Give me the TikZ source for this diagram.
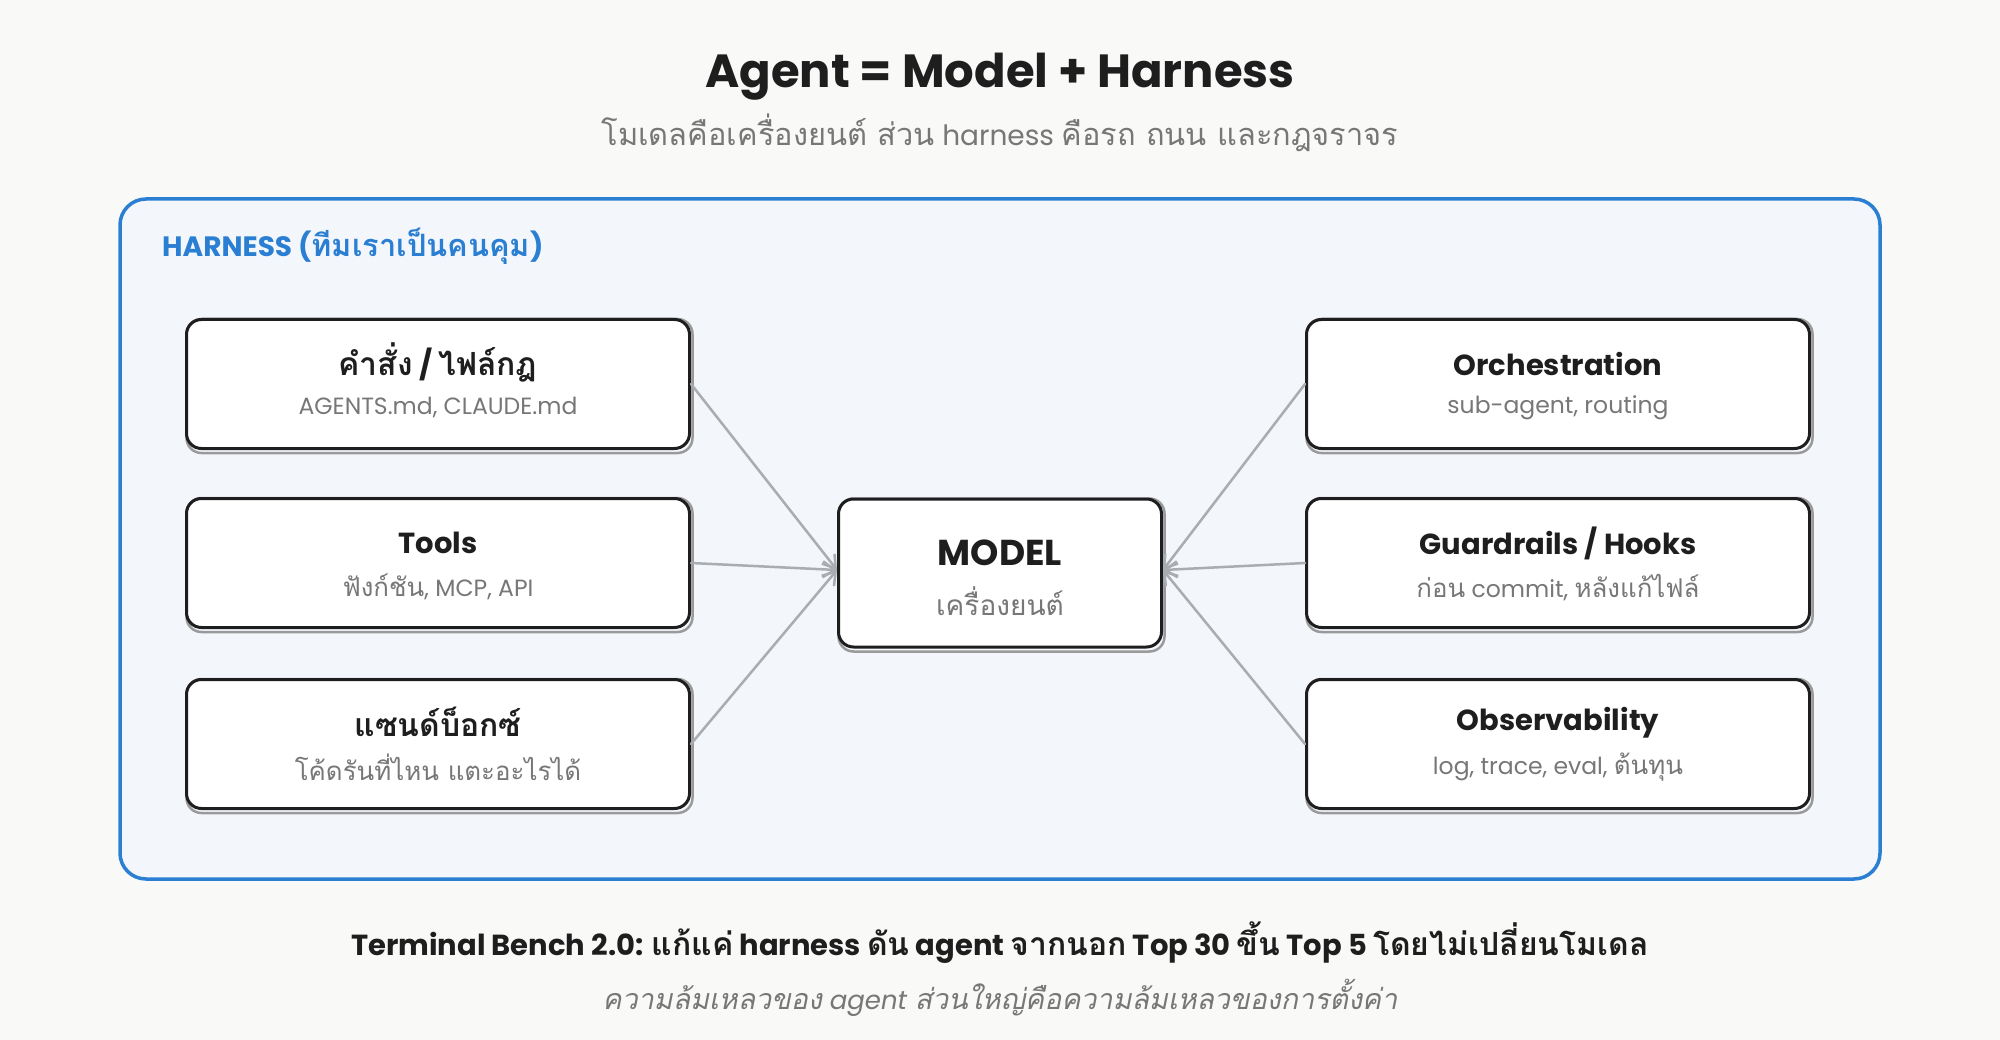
\documentclass[tikz,border=0pt]{standalone}
\usepackage{fontspec}
\setmainfont{Poppins}
\newfontfamily\thaifont[Script=Thai,Scale=1.1,BoldFont={Loma Bold},ItalicFont={Loma},ItalicFeatures={FakeSlant=0.2},BoldItalicFont={Loma Bold},BoldItalicFeatures={FakeSlant=0.2}]{Loma}
\newcommand{\T}[1]{{\thaifont #1}}
\usetikzlibrary{arrows.meta}
\definecolor{bgc}{HTML}{F9F9F8}
\definecolor{hfill}{HTML}{F3F7FC}
\definecolor{hblue}{HTML}{2B7FD2}
\definecolor{ink}{HTML}{1E1E1E}
\definecolor{subgray}{HTML}{777777}
\definecolor{conngray}{HTML}{A9ADB2}
\definecolor{shadowgray}{HTML}{9A9A9A}
\pgfdeclarelayer{back}
\pgfdeclarelayer{shade}
\pgfsetlayers{back,shade,main}
\begin{document}
\begin{tikzpicture}[x=1pt,y=-1pt,
  box/.style={draw=ink, line width=3pt, fill=white, rounded corners=15pt,
    minimum width=503pt, minimum height=129pt, inner sep=0pt},
  modelbox/.style={box, minimum width=323pt, minimum height=148pt},
  boxtitle/.style={font=\fontsize{29}{34}\selectfont\bfseries, text=ink, inner sep=0pt},
  boxsub/.style={font=\fontsize{23.5}{28}\selectfont, text=subgray, inner sep=0pt},
  conn/.style={draw=conngray, line width=2.5pt, line cap=round,
    -{Straight Barb[length=12pt,width=16pt,line width=2.5pt]}},
  shadeline/.style={draw=shadowgray, line width=2.5pt, rounded corners=15pt}
]
\useasboundingbox (0,0) rectangle (2000,1040);
\begin{pgfonlayer}{back}
  \fill[bgc] (0,0) rectangle (2000,1040);
  \draw[hblue, fill=hfill, line width=3.5pt, rounded corners=26pt] (120,199) rectangle (1880,879);
\end{pgfonlayer}

% titles
\node[font=\fontsize{46.5}{54}\selectfont\bfseries, text=ink, inner sep=0pt] (title) at (1000,77) {Agent = Model + Harness};
\node[font=\fontsize{28}{34}\selectfont, text=subgray, inner sep=0pt] (subtitle) at (1000,133)
  {\T{โมเดลคือเครื่องยนต์ ส่วน} harness \T{คือรถ ถนน และกฎจราจร}};
\node[font=\fontsize{28}{34}\selectfont\bfseries, text=hblue, inner sep=0pt, anchor=west] (hlabel) at (162,246)
  {HARNESS (\T{ทีมเราเป็นคนคุม})};

% boxes
\node[box] (l1) at (438,384) {};
\node[box] (l2) at (438,563) {};
\node[box] (l3) at (438,744) {};
\node[modelbox] (model) at (1000,573) {};
\node[box] (r1) at (1558,384) {};
\node[box] (r2) at (1558,563) {};
\node[box] (r3) at (1558,744) {};

\begin{pgfonlayer}{shade}
  \foreach \n in {l1,l2,l3,model,r1,r2,r3}{
    \draw[shadeline] ([shift={(1.5pt,-3pt)}]\n.south west) rectangle ([shift={(1.5pt,-1pt)}]\n.north east);
  }
\end{pgfonlayer}

% box texts
\node[boxtitle] (l1t) at (438,362) {\T{คำสั่ง} / \T{ไฟล์กฎ}};
\node[boxsub] (l1s) at (438,407) {AGENTS.md, CLAUDE.md};
\node[boxtitle] (l2t) at (438,543) {Tools};
\node[boxsub] (l2s) at (438,587) {\T{ฟังก์ชัน}, MCP, API};
\node[boxtitle] (l3t) at (438,722) {\T{แซนด์บ็อกซ์}};
\node[boxsub] (l3s) at (438,767) {\T{โค้ดรันที่ไหน แตะอะไรได้}};

\node[font=\fontsize{36}{42}\selectfont\bfseries, text=ink, inner sep=0pt] (modelt) at (1000,553) {MODEL};
\node[font=\fontsize{25.5}{30}\selectfont, text=subgray, inner sep=0pt] (models) at (1000,601) {\T{เครื่องยนต์}};

\node[boxtitle] (r1t) at (1558,364) {Orchestration};
\node[boxsub] (r1s) at (1558,408) {sub-agent, routing};
\node[boxtitle] (r2t) at (1558,543) {Guardrails / Hooks};
\node[boxsub] (r2s) at (1558,588) {\T{ก่อน} commit, \T{หลังแก้ไฟล์}};
\node[boxtitle] (r3t) at (1558,723) {Observability};
\node[boxsub] (r3s) at (1558,767) {log, trace, eval, \T{ต้นทุน}};

% connectors
\draw[conn] (l1.east) -- ([yshift=3pt]model.west);
\draw[conn] (l2.east) -- ([yshift=3pt]model.west);
\draw[conn] (l3.east) -- ([yshift=3pt]model.west);
\draw[conn] (r1.west) -- ([yshift=3pt]model.east);
\draw[conn] (r2.west) -- ([yshift=3pt]model.east);
\draw[conn] (r3.west) -- ([yshift=3pt]model.east);

% footer
\node[font=\fontsize{29}{34}\selectfont\bfseries, text=ink, inner sep=0pt] (foot1) at (1000,943)
  {Terminal Bench 2.0: \T{แก้แค่} harness \T{ดัน} agent \T{จากนอก} Top 30 \T{ขึ้น} Top 5 \T{โดยไม่เปลี่ยนโมเดล}};
\node[font=\fontsize{26}{32}\selectfont\itshape, text=subgray, inner sep=0pt] (foot2) at (1000,998)
  {\T{ความล้มเหลวของ} agent \T{ส่วนใหญ่คือความล้มเหลวของการตั้งค่า}};
\end{tikzpicture}
\end{document}
